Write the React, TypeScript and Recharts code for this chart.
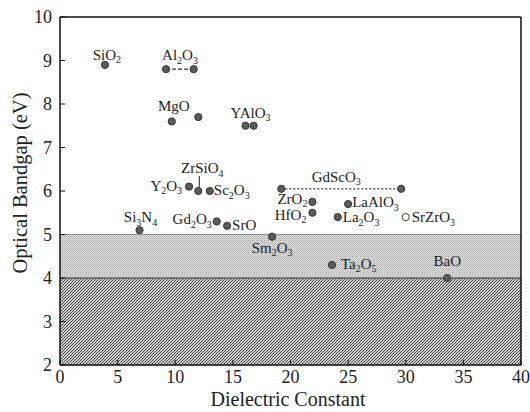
import React from 'react'
import {
  ScatterChart, Scatter, XAxis, YAxis, ReferenceArea, ReferenceLine,
} from 'recharts'

// filled symbols
const names = [
  'SiO2', 'Al2O3', 'Al2O3', 'MgO', 'MgO', 'YAlO3', 'YAlO3', 'ZrSiO4', 'Y2O3', 'Sc2O3',
  'Si3N4', 'Gd2O3', 'SrO', 'Sm2O3', 'GdScO3', 'GdScO3', 'ZrO2', 'HfO2', 'LaAlO3',
  'La2O3', 'Ta2O5', 'BaO',
]
const kValues = [
  3.9, 9.2, 11.6, 9.7, 12.0, 16.1, 16.8, 12.0, 11.2, 13.0,
  6.9, 13.6, 14.5, 18.4, 19.2, 29.6, 21.9, 21.9, 25.0,
  24.1, 23.6, 33.6,
]
const gapValues = [
  8.9, 8.8, 8.8, 7.6, 7.7, 7.5, 7.5, 6.0, 6.1, 6.0,
  5.1, 5.3, 5.2, 4.95, 6.05, 6.05, 5.75, 5.5, 5.7,
  5.4, 4.3, 4.0,
]

// open symbol
const openNames = ['SrZrO3']
const openK = [30.0]
const openGap = [5.4]

// pairs joined by a dashed line
const linkedNames = ['Al2O3', 'GdScO3']

const xTicks = [0, 5, 10, 15, 20, 25, 30, 35, 40]
const yTicks = [2, 3, 4, 5, 6, 7, 8, 9, 10]

// label offset from the dot, in px: [dx, dy, anchor]
const labelPlace: Record<string, [number, number, string]> = {
  SiO2: [2, -5, 'middle'],
  Al2O3: [14, -9, 'middle'],
  MgO: [2, -10, 'middle'],
  YAlO3: [5, -8, 'middle'],
  ZrSiO4: [4, -18, 'middle'],
  Y2O3: [-7, 4, 'end'],
  Sc2O3: [4, 4, 'start'],
  Si3N4: [1, -8, 'middle'],
  Gd2O3: [-5, 3, 'end'],
  SrO: [5, 4, 'start'],
  Sm2O3: [0, 16, 'middle'],
  GdScO3: [55, -7, 'middle'],
  ZrO2: [-5, 2, 'end'],
  HfO2: [-6, 7, 'end'],
  LaAlO3: [4, 3, 'start'],
  La2O3: [5, 5, 'start'],
  SrZrO3: [6, 5, 'start'],
  Ta2O5: [9, 4, 'start'],
  BaO: [0, -12, 'middle'],
}

const FONT = 'Liberation Serif, Times New Roman, DejaVu Serif, serif'
const INK = '#222'

const filled = names.map((n, i) => ({
  name: n, k: kValues[i], eg: gapValues[i], showLabel: names.indexOf(n) === i,
}))
const open = openNames.map((n, i) => ({ name: n, k: openK[i], eg: openGap[i], showLabel: true }))

function Formula({ text, x, y, anchor }: { text: string; x: number; y: number; anchor: string }) {
  const parts = text.match(/\d+|\D+/g) || []
  let shifted = false
  return (
    <text x={x} y={y} textAnchor={anchor as any} fontFamily={FONT} fontSize={15} fill={INK}>
      {parts.map((p, i) => {
        const isNum = /\d/.test(p)
        const dy = isNum ? (shifted ? 0 : 3.5) : (shifted ? -3.5 : 0)
        shifted = isNum
        return (
          <tspan key={i} dy={dy} fontSize={isNum ? 10 : 15}>{p}</tspan>
        )
      })}
    </text>
  )
}

function Marker(props: any, hollow = false) {
  const { cx, cy, payload } = props
  const place = labelPlace[payload.name] || [0, -8, 'middle']
  return (
    <g>
      {payload.name === 'ZrSiO4' && (
        <line x1={cx + 1} x2={cx + 1} y1={cy - 15} y2={cy - 3} stroke={INK} strokeWidth={1} />
      )}
      <circle cx={cx} cy={cy} r={3.6}
        fill={hollow ? '#fff' : '#5c5c5c'} stroke={hollow ? '#444' : '#333'} strokeWidth={1} />
      {payload.showLabel && (
        <Formula text={payload.name} x={cx + place[0]} y={cy + place[1]} anchor={place[2]} />
      )}
    </g>
  )
}

const tickStyle = { fontFamily: FONT, fontSize: 18, fill: INK }

export default function App() {
  return (
    <div style={{ width: 530, height: 412, background: '#fff' }}>
      <style>{'body{margin:0;background:#fff} .recharts-surface text, .recharts-surface tspan{font-family:"Liberation Serif","Times New Roman",serif !important}'}</style>
      <ScatterChart width={530} height={412} margin={{ top: 16, right: 8, bottom: 0, left: 0 }}>
        <defs>
          <pattern id="hatch" patternUnits="userSpaceOnUse" width="3" height="3">
            <rect width="3" height="3" fill="#d2d2d2" />
            <path d="M-1,1 l2,-2 M0,3 l3,-3 M2,4 l2,-2" stroke="#3c3c3c" strokeWidth="1" />
          </pattern>
          <pattern id="stipple" patternUnits="userSpaceOnUse" width="2" height="2">
            <rect width="2" height="2" fill="#e2e2e2" />
            <rect width="1" height="1" fill="#a8a8a8" />
            <rect x="1" y="1" width="1" height="1" fill="#c0c0c0" />
          </pattern>
        </defs>
        <XAxis dataKey="k" type="number" domain={[0, 40]} ticks={xTicks} interval={0}
          height={47} tickSize={-5} tickMargin={10}
          axisLine={{ stroke: '#111', strokeWidth: 1.5 }} tickLine={{ stroke: '#111' }}
          tick={tickStyle}
          label={() => (
            <text x={288} y={406} textAnchor="middle" fontFamily={FONT} fontSize={20} fill={INK}>
              Dielectric Constant
            </text>
          )} />
        <XAxis xAxisId="top" orientation="top" dataKey="k" type="number" domain={[0, 40]}
          ticks={xTicks} height={1} tickSize={-5} tickFormatter={() => ''}
          axisLine={{ stroke: '#111', strokeWidth: 1.5 }} tickLine={{ stroke: '#111' }} />
        <YAxis dataKey="eg" type="number" domain={[2, 10]} ticks={yTicks} interval={0}
          width={60} tickSize={-5} tickMargin={13}
          axisLine={{ stroke: '#111', strokeWidth: 1.5 }} tickLine={{ stroke: '#111' }}
          tick={tickStyle}
          label={() => (
            <text x={27} y={183} transform="rotate(-90 27 183)" textAnchor="middle"
              fontFamily={FONT} fontSize={20.5} fill={INK}>
              Optical Bandgap (eV)
            </text>
          )} />
        <YAxis yAxisId="right" orientation="right" dataKey="eg" type="number" domain={[2, 10]}
          ticks={yTicks} width={1} tickSize={-5} tickFormatter={() => ''}
          axisLine={{ stroke: '#111', strokeWidth: 1.5 }} tickLine={{ stroke: '#111' }} />

        <ReferenceArea y1={2} y2={4} fill="url(#hatch)" fillOpacity={1} stroke="none" />
        <ReferenceArea y1={4} y2={5} fill="url(#stipple)" fillOpacity={1} stroke="none" />
        <ReferenceLine y={4} stroke="#333" strokeWidth={1.2} />
        <ReferenceLine y={5} stroke="#777" strokeWidth={0.8} />

        {linkedNames.map(n => (
          <Scatter key={n} data={filled.filter(d => d.name === n)} isAnimationActive={false}
            line={{ stroke: '#333', strokeWidth: 1.2, strokeDasharray: n === 'GdScO3' ? '2 2' : '4 2' }}
            lineType="joint" shape={() => <g />} />
        ))}
        <Scatter data={filled} isAnimationActive={false} shape={(p: any) => Marker(p)} />
        <Scatter data={open} isAnimationActive={false} shape={(p: any) => Marker(p, true)} />
      </ScatterChart>
    </div>
  )
}
